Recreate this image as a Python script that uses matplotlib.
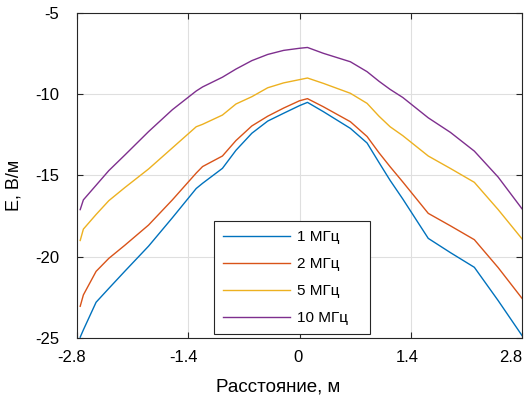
import matplotlib
matplotlib.use("Agg")
import matplotlib.pyplot as plt
from matplotlib.transforms import ScaledTranslation

plt.rcParams['font.family'] = ['Liberation Sans', 'DejaVu Sans']

# distance along the profile, m
dist = [-2.76, -2.72, -2.56, -2.4, -2.2, -1.9, -1.6, -1.3, -1.22, -0.97, -0.8,
        -0.6, -0.4, -0.2, 0.0, 0.1, 0.3, 0.64, 0.85, 1.0, 1.14, 1.3, 1.62,
        1.9, 2.2, 2.5, 2.8]

# field strength, V/m
e_1mhz = [-24.95, -24.5, -22.8, -21.95, -20.9, -19.35, -17.6, -15.8, -15.48,
          -14.56, -13.45, -12.4, -11.65, -11.17, -10.7, -10.5, -11.07, -12.1,
          -13.0, -14.2, -15.3, -16.45, -18.87, -19.75, -20.65, -22.7, -24.85]
e_2mhz = [-23.05, -22.35, -20.9, -20.1, -19.3, -18.05, -16.5, -14.85, -14.45,
          -13.8, -12.85, -11.95, -11.35, -10.85, -10.4, -10.27, -10.77, -11.69,
          -12.6, -13.6, -14.46, -15.4, -17.33, -18.1, -18.95, -20.67, -22.56]
e_5mhz = [-19.0, -18.3, -17.4, -16.55, -15.75, -14.6, -13.3, -12.0, -11.85,
          -11.28, -10.6, -10.15, -9.6, -9.3, -9.1, -9.0, -9.33, -9.94, -10.56,
          -11.35, -12.0, -12.55, -13.8, -14.57, -15.42, -17.1, -18.9]
e_10mhz = [-17.1, -16.5, -15.6, -14.7, -13.75, -12.3, -10.95, -9.8, -9.55,
           -8.95, -8.45, -7.93, -7.55, -7.3, -7.17, -7.12, -7.48, -8.0, -8.61,
           -9.2, -9.7, -10.2, -11.45, -12.35, -13.5, -15.1, -17.05]

labels = ['1 МГц', '2 МГц', '5 МГц', '10 МГц']
colors = ['#0072BD', '#D95319', '#EDB120', '#7E2F8E']
xticks = [-2.8, -1.4, 0, 1.4, 2.8]
xticklabels = ['-2.8', '-1.4', '0', '1.4', '2.8']
yticks = [-25, -20, -15, -10, -5]

fig = plt.figure(figsize=(5.29, 3.98), dpi=100)
ax = fig.add_axes([0.1456, 0.1508, 0.8412, 0.8165])

for ys, lab, c in zip([e_1mhz, e_2mhz, e_5mhz, e_10mhz], labels, colors):
    ax.plot(dist, ys, color=c, lw=1.0, label=lab)

ax.set_xlim(-2.8, 2.8)
ax.set_ylim(-25, -5)
ax.set_xticks(xticks)
ax.set_xticklabels(xticklabels)
ax.set_yticks(yticks)
ax.set_yticklabels([str(v) for v in yticks])
ax.grid(True, color='#dfdfdf', lw=0.8)
ax.set_axisbelow(True)
ax.tick_params(direction='in', top=True, right=True, labelsize=12,
               color='#262626', length=4, width=0.8)
ax.tick_params(axis='x', pad=9)
ax.tick_params(axis='y', pad=13)
for s in ax.spines.values():
    s.set_color('#262626')
    s.set_linewidth(0.8)

# x tick labels sit a little left of their ticks in the original
shifts = [-5, -5, -2, -4, -11]
for t, dx in zip(ax.get_xticklabels(), shifts):
    t.set_transform(t.get_transform() + ScaledTranslation(dx / 100, 0, fig.dpi_scale_trans))

ax.set_xlabel('Расстояние, м', fontsize=13.5)
ax.xaxis.set_label_coords(0.452, -0.125)
ax.set_ylabel('E, В/м', fontsize=13)
ax.yaxis.set_label_coords(-0.122, 0.47)

leg = ax.legend(loc='lower left', bbox_to_anchor=(0.308, 0.012, 0.35, 0.36),
                mode='expand', borderaxespad=0, fontsize=11,
                handlelength=4.4, labelspacing=0.85, fancybox=False,
                framealpha=1, edgecolor='#262626', borderpad=0.6,
                handletextpad=0.4)
leg.get_frame().set_linewidth(0.8)

fig.savefig('out.png', dpi=100)
